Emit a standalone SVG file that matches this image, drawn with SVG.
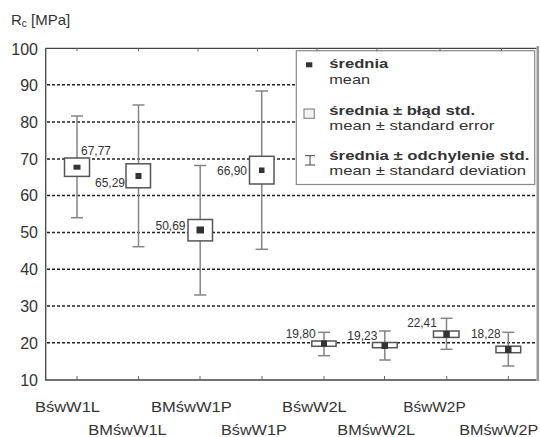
<svg xmlns="http://www.w3.org/2000/svg" width="540" height="437" viewBox="0 0 540 437">
<style>
text{font-family:"Liberation Sans",Arial,sans-serif;fill:#333}
.tick{font-size:16px;text-anchor:end}
.xl{font-size:14.5px}
.val{font-size:12.5px}
.lg{font-size:13.5px}
.lgb{font-size:13.5px;font-weight:bold}
.grid{stroke:#222;stroke-width:1.6;stroke-dasharray:3 2;fill:none}
.ax{stroke:#444;stroke-width:1.3;fill:none}
.tk{stroke:#666;stroke-width:1}
.wh{stroke:#858585;stroke-width:1.5;fill:none}
.bx{stroke:#555;stroke-width:1.5;fill:#fff}
.mn{fill:#333}
</style>
<rect width="540" height="437" fill="#fff"/>
<g id="axis-title"><text x="11" y="25" style="font-size:15px">R<tspan style="font-size:10px" dy="2">c</tspan><tspan dy="-2"> [MPa]</tspan></text></g>
<g id="grid">
<line class="grid" x1="47" y1="84.7" x2="535" y2="84.7"/>
<line class="grid" x1="47" y1="122" x2="535" y2="122"/>
<line class="grid" x1="47" y1="159" x2="535" y2="159"/>
<line class="grid" x1="47" y1="195.5" x2="535" y2="195.5"/>
<line class="grid" x1="47" y1="232.5" x2="535" y2="232.5"/>
<line class="grid" x1="47" y1="269.3" x2="535" y2="269.3"/>
<line class="grid" x1="47" y1="306" x2="535" y2="306"/>
<line class="grid" x1="47" y1="342.8" x2="535" y2="342.8"/>
</g>
<g id="y-ticks">
<text class="tick" x="38" y="54.5">100</text>
<text class="tick" x="38" y="90.5">90</text>
<text class="tick" x="38" y="127.8">80</text>
<text class="tick" x="38" y="164.8">70</text>
<text class="tick" x="38" y="201.3">60</text>
<text class="tick" x="38" y="238.3">50</text>
<text class="tick" x="38" y="275">40</text>
<text class="tick" x="38" y="311.8">30</text>
<text class="tick" x="38" y="348.6">20</text>
<text class="tick" x="38" y="385.8">10</text>
</g>
<g id="BswW1L">
<line class="wh" x1="77" y1="116" x2="77" y2="217.7"/><line class="wh" x1="71" y1="116" x2="83" y2="116"/><line class="wh" x1="71" y1="217.7" x2="83" y2="217.7"/>
<rect class="bx" x="64.5" y="158" width="25" height="18.4"/>
<rect class="mn" x="73.5" y="164.7" width="7" height="5"/>
<text class="val" x="81" y="155" textLength="30" lengthAdjust="spacingAndGlyphs">67,77</text>
</g>
<g id="BMswW1L">
<line class="wh" x1="138.5" y1="105" x2="138.5" y2="246.7"/><line class="wh" x1="132.5" y1="105" x2="144.5" y2="105"/><line class="wh" x1="132.5" y1="246.7" x2="144.5" y2="246.7"/>
<rect class="bx" x="126" y="163.8" width="24.5" height="24"/>
<rect class="mn" x="135.5" y="173" width="6" height="6"/>
<text class="val" x="125" y="187" text-anchor="end" textLength="30" lengthAdjust="spacingAndGlyphs">65,29</text>
</g>
<g id="BMswW1P">
<line class="wh" x1="200.2" y1="165.5" x2="200.2" y2="295"/><line class="wh" x1="194" y1="165.5" x2="206.3" y2="165.5"/><line class="wh" x1="194" y1="295" x2="206.3" y2="295"/>
<rect class="bx" x="188" y="219.5" width="24.5" height="21.4"/>
<rect class="mn" x="196.5" y="226.5" width="7.5" height="7"/>
<text class="val" x="185.5" y="230" text-anchor="end" textLength="30" lengthAdjust="spacingAndGlyphs">50,69</text>
</g>
<g id="BswW1P">
<line class="wh" x1="261.7" y1="91" x2="261.7" y2="249.3"/><line class="wh" x1="255.5" y1="91" x2="268" y2="91"/><line class="wh" x1="255.5" y1="249.3" x2="268" y2="249.3"/>
<rect class="bx" x="249.5" y="156.3" width="24.5" height="27.7"/>
<rect class="mn" x="259" y="167.5" width="5.5" height="5.5"/>
<text class="val" x="247" y="175" text-anchor="end" textLength="30" lengthAdjust="spacingAndGlyphs">66,90</text>
</g>
<g id="BswW2L">
<line class="wh" x1="324" y1="332.3" x2="324" y2="355.7"/><line class="wh" x1="318.2" y1="332.3" x2="330" y2="332.3"/><line class="wh" x1="318.2" y1="355.7" x2="330" y2="355.7"/>
<rect class="bx" x="311.8" y="341" width="24.3" height="5.3"/>
<rect class="mn" x="321" y="340.5" width="6" height="6"/>
<text class="val" x="315.7" y="338" text-anchor="end" textLength="30" lengthAdjust="spacingAndGlyphs">19,80</text>
</g>
<g id="BMswW2L">
<line class="wh" x1="384.8" y1="331" x2="384.8" y2="360"/><line class="wh" x1="379" y1="331" x2="390.7" y2="331"/><line class="wh" x1="379" y1="360" x2="390.7" y2="360"/>
<rect class="bx" x="372.5" y="342.5" width="24.7" height="5.2"/>
<rect class="mn" x="381.5" y="342.5" width="6.5" height="6.5"/>
<text class="val" x="377.3" y="340" text-anchor="end" textLength="30" lengthAdjust="spacingAndGlyphs">19,23</text>
</g>
<g id="BswW2P">
<line class="wh" x1="446.5" y1="318.3" x2="446.5" y2="349.3"/><line class="wh" x1="440.5" y1="318.3" x2="452.5" y2="318.3"/><line class="wh" x1="440.5" y1="349.3" x2="452.5" y2="349.3"/>
<rect class="bx" x="433.5" y="331" width="25.5" height="6.4"/>
<rect class="mn" x="443.3" y="331" width="6.5" height="6.5"/>
<text class="val" x="436.7" y="326.7" text-anchor="end" textLength="29.5" lengthAdjust="spacingAndGlyphs">22,41</text>
</g>
<g id="BMswW2P">
<line class="wh" x1="508.3" y1="332.3" x2="508.3" y2="366"/><line class="wh" x1="502.3" y1="332.3" x2="514.3" y2="332.3"/><line class="wh" x1="502.3" y1="366" x2="514.3" y2="366"/>
<rect class="bx" x="496" y="346.2" width="24.7" height="6.5"/>
<rect class="mn" x="505" y="346" width="6.5" height="7"/>
<text class="val" x="500.7" y="338.3" text-anchor="end" textLength="29.7" lengthAdjust="spacingAndGlyphs">18,28</text>
</g>
<g id="legend">
<rect x="296.3" y="50.7" width="238.4" height="133.8" fill="#fff" stroke="#8a8a8a" stroke-width="1.2"/>
<rect class="mn" x="306" y="62.3" width="6.3" height="5"/>
<rect x="304" y="109" width="10.3" height="9.3" fill="#f2f2f2" stroke="#777" stroke-width="1"/>
<path d="M305 155.7H315M310 155.7V165M305 165H315" stroke="#444" stroke-width="1" fill="none"/>
<text class="lgb" x="329.3" y="68.3" textLength="59" lengthAdjust="spacingAndGlyphs">średnia</text>
<text class="lg" x="329.3" y="84.3" textLength="40.7" lengthAdjust="spacingAndGlyphs">mean</text>
<text class="lgb" x="329.3" y="115" textLength="145.7" lengthAdjust="spacingAndGlyphs">średnia ± błąd std.</text>
<text class="lg" x="329.3" y="129.5" textLength="165" lengthAdjust="spacingAndGlyphs">mean ± standard error</text>
<text class="lgb" x="329.3" y="160" textLength="200" lengthAdjust="spacingAndGlyphs">średnia ± odchylenie std.</text>
<text class="lg" x="329.3" y="175.2" textLength="196.7" lengthAdjust="spacingAndGlyphs">mean ± standard deviation</text>
</g>
<g id="frame">
<path class="ax" d="M45.7 48.3V380H536.5M45.7 48.3H536.5"/>
<rect x="536.5" y="46" width="2.6" height="335" fill="#9a9a9a"/>
<path class="tk" d="M77 48.3v3M138.5 48.3v3M198 48.3v3M257.5 48.3v3M317 48.3v3M377 48.3v3M440 48.3v3M501.5 48.3v3M77 380v-4M138.5 380v-4M200 380v-4M262 380v-4M324 380v-4M384.5 380v-4M446.7 380v-4M508.3 380v-4"/>
</g>
<g id="x-labels">
<text class="xl" x="35" y="411.5" textLength="65" lengthAdjust="spacingAndGlyphs">BśwW1L</text>
<text class="xl" x="151" y="411.5" textLength="80.7" lengthAdjust="spacingAndGlyphs">BMśwW1P</text>
<text class="xl" x="282" y="411.5" textLength="64.7" lengthAdjust="spacingAndGlyphs">BśwW2L</text>
<text class="xl" x="403.3" y="411.5" textLength="62.4" lengthAdjust="spacingAndGlyphs">BśwW2P</text>
<text class="xl" x="88.3" y="434.5" textLength="78.4" lengthAdjust="spacingAndGlyphs">BMśwW1L</text>
<text class="xl" x="221" y="434.5" textLength="65.7" lengthAdjust="spacingAndGlyphs">BśwW1P</text>
<text class="xl" x="337.3" y="434.5" textLength="77.7" lengthAdjust="spacingAndGlyphs">BMśwW2L</text>
<text class="xl" x="459.3" y="434.5" textLength="79" lengthAdjust="spacingAndGlyphs">BMśwW2P</text>
</g>
</svg>
